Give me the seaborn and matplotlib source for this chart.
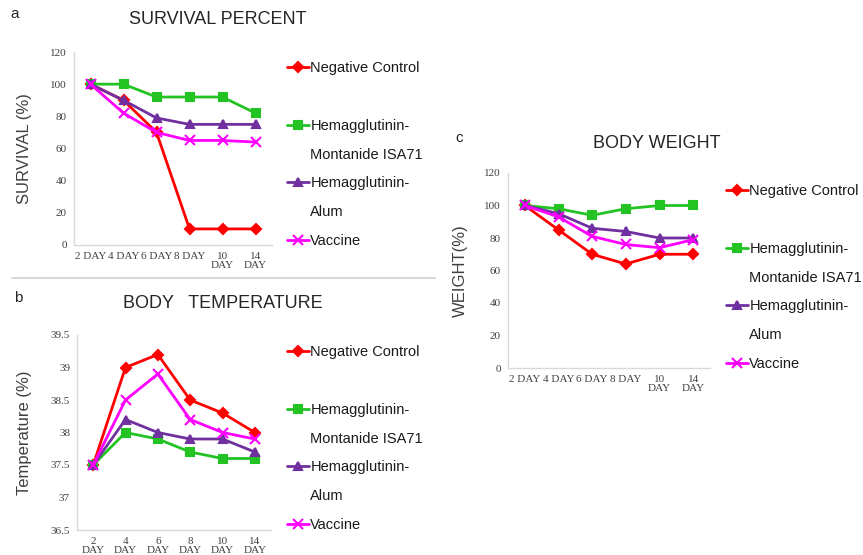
import matplotlib
matplotlib.use("Agg")
import matplotlib.pyplot as plt
from matplotlib.lines import Line2D
import numpy as np
import seaborn as sns

# dias del ensayo
days = ["2", "4", "6", "8", "10", "14"]
groups = ["Negative Control", "Hemagglutinin-Montanide ISA71",
          "Hemagglutinin-Alum", "Vaccine"]

survival_neg = [100, 90, 70, 10, 10, 10]
survival_mont = [100, 100, 92, 92, 92, 82]
survival_alum = [100, 90, 79, 75, 75, 75]
survival_vac = [100, 82, 70, 65, 65, 64]

temp_neg = [37.5, 39.0, 39.2, 38.5, 38.3, 38.0]
temp_mont = [37.5, 38.0, 37.9, 37.7, 37.6, 37.6]
temp_alum = [37.5, 38.2, 38.0, 37.9, 37.9, 37.7]
temp_vac = [37.5, 38.5, 38.9, 38.2, 38.0, 37.9]

weight_neg = [100, 85, 70, 64, 70, 70]
weight_mont = [100, 98, 94, 98, 100, 100]
weight_alum = [100, 95, 86, 84, 80, 80]
weight_vac = [100, 93, 81, 76, 74, 79]

colors = ["#FF0000", "#22C322", "#7030A0", "#FF00FF"]
markers = ["D", "s", "^", "x"]
msizes = [5, 5.5, 6, 7]

sns.set_style("white")
plt.rcParams["font.family"] = ["Liberation Sans", "DejaVu Sans"]

W, H = 863, 555
fig = plt.figure(figsize=(W / 100, H / 100), dpi=100)


def rect(l, r, t, b):
    return [l / W, (H - b) / H, (r - l) / W, (b - t) / H]


def draw_panel(ax, series, xlabels, ylim, yticks, ylabels, ylabel, ylab_x, leg_xy):
    pos = np.arange(len(days))
    for vals, c, m, ms in zip(series, colors, markers, msizes):
        sns.lineplot(x=pos, y=vals, ax=ax, color=c, marker=m, markersize=ms,
                     linewidth=2, markeredgecolor=c, markeredgewidth=1.5)
    ax.set_xlim(-0.5, len(days) - 0.5)
    ax.set_ylim(*ylim)
    ax.set_xticks(pos)
    ax.set_xticklabels(xlabels, family="Liberation Serif", fontsize=8,
                       color="#404040", linespacing=1.0)
    ax.set_yticks(yticks)
    ax.set_yticklabels(ylabels, family="Liberation Serif", fontsize=8,
                       color="#404040")
    ax.tick_params(axis="both", length=0)
    ax.tick_params(axis="y", pad=5)
    ax.tick_params(axis="x", pad=5)
    for s in ["top", "right"]:
        ax.spines[s].set_visible(False)
    for s in ["left", "bottom"]:
        ax.spines[s].set_color("#d9d9d9")
        ax.spines[s].set_linewidth(1)
    ax.set_ylabel(ylabel, fontsize=12, color="#404040")
    ax.yaxis.set_label_coords(ylab_x, 0.5)
    ax.set_xlabel("")
    # leyenda con filas extra para los nombres partidos
    h = [Line2D([], [], color=c, marker=m, markersize=ms, linewidth=2,
                markeredgecolor=c, markeredgewidth=1.5)
         for c, m, ms in zip(colors, markers, msizes)]
    blank = Line2D([], [], color="none")
    handles = [h[0], blank, h[1], blank, h[2], blank, h[3]]
    labels = ["Negative Control", " ", "Hemagglutinin-", "Montanide ISA71",
              "Hemagglutinin-", "Alum", "Vaccine"]
    ax.legend(handles, labels, loc="upper left",
              bbox_to_anchor=(leg_xy[0] / W, 1 - leg_xy[1] / H),
              bbox_transform=fig.transFigure, frameon=False, fontsize=10.5,
              handlelength=1.5, handletextpad=0.1, labelspacing=1.02,
              borderpad=0, borderaxespad=0, labelcolor="#1a1a1a")


xl_ac = ["2 DAY", "4 DAY", "6 DAY", "8 DAY", "10\nDAY", "14\nDAY"]
xl_b = [d + "\nDAY" for d in days]

ax_a = fig.add_axes(rect(74, 272, 52, 245))
draw_panel(ax_a, [survival_neg, survival_mont, survival_alum, survival_vac],
           xl_ac, (0, 120), np.arange(0, 121, 20),
           [str(v) for v in range(0, 121, 20)], "SURVIVAL (%)", -0.21, (287, 61))

ax_b = fig.add_axes(rect(77, 271, 335, 530))
tb = np.arange(36.5, 39.51, 0.5)
draw_panel(ax_b, [temp_neg, temp_mont, temp_alum, temp_vac],
           xl_b, (36.5, 39.5), tb, [f"{v:g}" for v in tb],
           "Temperature (%)", -0.23, (287, 345))

ax_c = fig.add_axes(rect(508, 710, 173, 368))
draw_panel(ax_c, [weight_neg, weight_mont, weight_alum, weight_vac],
           xl_ac, (0, 120), np.arange(0, 121, 20),
           [str(v) for v in range(0, 121, 20)], "WEIGHT(%)", -0.20, (726, 184))

fig.text(218 / W, 1 - 20 / H, "SURVIVAL PERCENT", ha="center", va="center",
         fontsize=13, color="#262626")
fig.text(223 / W, 1 - 304 / H, "BODY   TEMPERATURE", ha="center", va="center",
         fontsize=13, color="#262626")
fig.text(657 / W, 1 - 143 / H, "BODY WEIGHT", ha="center", va="center",
         fontsize=13, color="#262626")

fig.text(10 / W, 1 - 14 / H, "a", ha="left", va="center", fontsize=11)
fig.text(14 / W, 1 - 298 / H, "b", ha="left", va="center", fontsize=11)
fig.text(455 / W, 1 - 138 / H, "c", ha="left", va="center", fontsize=11)

fig.add_artist(Line2D([12 / W, 435 / W], [1 - 278 / H, 1 - 278 / H],
                      color="#d9d9d9", linewidth=1.5))

fig.savefig("out.png", dpi=100)
